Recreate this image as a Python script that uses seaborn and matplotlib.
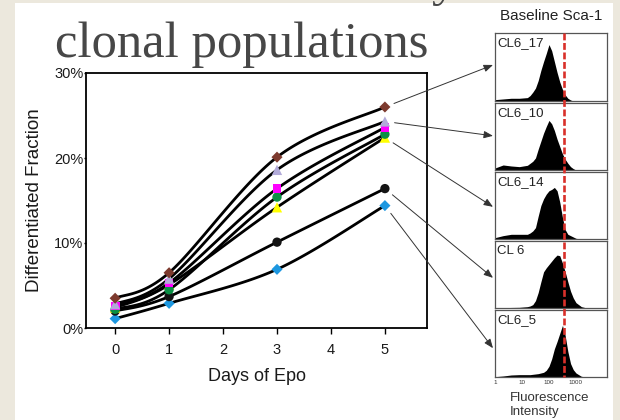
import numpy as np
import pandas as pd
import matplotlib
matplotlib.use("Agg")
import matplotlib.pyplot as plt
from matplotlib.lines import Line2D
from matplotlib.patches import Rectangle
import seaborn as sns

# ---------------------------------------------------------------------------
# Differentiated fraction (%) after days of Epo, one series per clone
# ---------------------------------------------------------------------------
days = [0, 1, 3, 5]
blue_diamond = [1.1, 2.9, 6.9, 14.4]
black_circle = [2.0, 3.7, 10.1, 16.4]
yellow_triangle = [2.4, 5.1, 14.2, 22.4]
green_circle = [2.2, 4.5, 15.4, 22.8]
magenta_square = [2.6, 5.3, 16.4, 23.6]
lavender_triangle = [2.8, 5.8, 18.6, 24.3]
brown_diamond = [3.5, 6.5, 20.1, 26.0]

series_names = ["blue", "black", "yellow", "green", "magenta", "lavender", "brown"]
series_values = [blue_diamond, black_circle, yellow_triangle, green_circle,
                 magenta_square, lavender_triangle, brown_diamond]

x_ticks = [0, 1, 2, 3, 4, 5]
y_ticks = [0, 10, 20, 30]

# ---------------------------------------------------------------------------
# Baseline Sca-1 fluorescence histograms (log10 intensity, relative counts)
# ---------------------------------------------------------------------------
log_intensity = [0.0, 0.3, 0.6, 0.9, 1.2, 1.3, 1.4, 1.5, 1.6, 1.7, 1.8, 1.9, 2.0,
                 2.1, 2.2, 2.3, 2.4, 2.5, 2.6, 2.7, 2.8, 2.9, 3.0, 3.2, 3.4, 4.2]
hist_CL6_17 = [0.02, 0.03, 0.04, 0.04, 0.05, 0.08, 0.13, 0.19, 0.30, 0.45, 0.58, 0.70, 0.83,
               0.74, 0.58, 0.42, 0.28, 0.17, 0.09, 0.04, 0.015, 0, 0, 0, 0, 0]
hist_CL6_10 = [0.03, 0.075, 0.06, 0.05, 0.07, 0.10, 0.13, 0.18, 0.31, 0.43, 0.55, 0.65, 0.74,
               0.69, 0.59, 0.46, 0.35, 0.24, 0.16, 0.10, 0.05, 0.02, 0, 0, 0, 0]
hist_CL6_14 = [0.02, 0.05, 0.07, 0.07, 0.07, 0.09, 0.12, 0.17, 0.34, 0.50, 0.60, 0.67, 0.72,
               0.74, 0.77, 0.72, 0.55, 0.32, 0.14, 0.07, 0.05, 0.03, 0.01, 0, 0, 0]
hist_CL6 = [0.005, 0.005, 0.008, 0.01, 0.02, 0.03, 0.05, 0.11, 0.23, 0.39, 0.54, 0.60, 0.65,
            0.70, 0.75, 0.79, 0.78, 0.67, 0.54, 0.39, 0.25, 0.15, 0.08, 0.02, 0, 0]
hist_CL6_5 = [0.005, 0.015, 0.03, 0.035, 0.035, 0.035, 0.04, 0.045, 0.05, 0.06, 0.07, 0.10, 0.16,
              0.27, 0.42, 0.53, 0.65, 0.77, 0.62, 0.38, 0.20, 0.11, 0.06, 0.01, 0, 0]

hist_labels = ["CL6_17", "CL6_10", "CL6_14", "CL 6", "CL6_5"]
hist_values = [hist_CL6_17, hist_CL6_10, hist_CL6_14, hist_CL6, hist_CL6_5]
hist_source = ["brown", "lavender", "yellow", "black", "blue"]   # curve each histogram belongs to
gate_intensity = 360
hist_ticks = [1, 10, 100, 1000]

# ---------------------------------------------------------------------------
# Styling
# ---------------------------------------------------------------------------
marker_colors = {"blue": "#1c97e0", "black": "#141414", "yellow": "#ffff00",
                 "green": "#0a8f45", "magenta": "#ff00ff", "lavender": "#b2abd9",
                 "brown": "#7d3a2e"}
marker_shapes = {"blue": "D", "black": "o", "yellow": "^", "green": "o",
                 "magenta": "s", "lavender": "^", "brown": "D"}
marker_sizes = {"blue": 32, "black": 45, "yellow": 55, "green": 45,
                "magenta": 40, "lavender": 55, "brown": 32}

sns.set_theme(style="white")
plt.rcParams["font.family"] = ["Liberation Sans", "DejaVu Sans"]

W, H = 620, 420
fig = plt.figure(figsize=(W / 100, H / 100), dpi=100)
fig.patch.set_facecolor("#ece8dd")
fig.patches.append(Rectangle((15 / W, 0), (613 - 15) / W, (H - 3) / H,
                             transform=fig.transFigure, facecolor="white",
                             edgecolor="none", zorder=-10))


def box(left, top, right, bottom):
    return [left / W, 1 - bottom / H, (right - left) / W, (bottom - top) / H]


def smooth_path(x, y, aspect, n=40):
    """Piecewise cubic Bezier through the points (spreadsheet-style smoothing)."""
    P = np.column_stack([np.asarray(x, float) * aspect, np.asarray(y, float)])
    parts = []
    for i in range(len(P) - 1):
        p0, p1, p2 = P[max(i - 1, 0)], P[i], P[i + 1]
        p3 = P[min(i + 2, len(P) - 1)]
        c1 = p1 + (p2 - p0) / 6
        c2 = p2 - (p3 - p1) / 6
        t = np.linspace(0, 1, n)[:, None]
        seg = ((1 - t) ** 3) * p1 + 3 * ((1 - t) ** 2) * t * c1 \
            + 3 * (1 - t) * (t ** 2) * c2 + (t ** 3) * p2
        parts.append(seg if i == 0 else seg[1:])
    pts = np.vstack(parts)
    return pts[:, 0] / aspect, pts[:, 1]


# ---------------------------------------------------------------------------
# Title
# ---------------------------------------------------------------------------
fig.text(55 / W, 1 - 57 / H, "clonal populations", fontsize=36.5,
         family=["Liberation Serif", "DejaVu Serif"], color="#474747",
         ha="left", va="baseline")
fig.text(431 / W, 1 + 5 / H, "y", fontsize=36.5,
         family=["Liberation Serif", "DejaVu Serif"], color="#474747",
         ha="left", va="baseline")

# ---------------------------------------------------------------------------
# Main time-course chart
# ---------------------------------------------------------------------------
ax = fig.add_axes(box(86, 73, 427, 328))
ax.set_facecolor("white")

aspect = 54 / 8.5
for vals in series_values:
    sx, sy = smooth_path(days, vals, aspect)
    ax.plot(sx, sy, color="black", lw=2.0, solid_capstyle="round", zorder=2)

df = pd.DataFrame([(name, d, v) for name, vals in zip(series_names, series_values)
                   for d, v in zip(days, vals)], columns=["clone", "day", "pct"])
sns.scatterplot(data=df, x="day", y="pct", hue="clone", style="clone", size="clone",
                palette=marker_colors, markers=marker_shapes, sizes=marker_sizes,
                linewidth=0, legend=False, ax=ax, zorder=3)

ax.set_xlim(-0.54, 5.78)
ax.set_ylim(0, 30)
ax.set_xticks(x_ticks)
ax.set_xticklabels([str(t) for t in x_ticks])
ax.set_yticks(y_ticks)
ax.set_yticklabels([f"{t}%" for t in y_ticks])
ax.tick_params(axis="x", direction="out", length=4, width=1, color="black",
               labelsize=10.5, labelcolor="#1a1a1a", pad=7, bottom=True)
ax.tick_params(axis="y", direction="out", length=1.5, width=1, color="black",
               labelsize=10.5, labelcolor="#1a1a1a", pad=0.3, left=True)
for sp in ax.spines.values():
    sp.set_color("black")
    sp.set_linewidth(1.3)
ax.set_xlabel("Days of Epo", fontsize=13, color="#1a1a1a", labelpad=8)
ax.set_ylabel("Differentiated Fraction", fontsize=13.5, color="#1a1a1a", labelpad=8)

# ---------------------------------------------------------------------------
# Baseline Sca-1 histograms
# ---------------------------------------------------------------------------
panel_tops = [33, 103, 172, 241, 310]
panel_bottoms = [101, 170, 239, 308, 377]
arrow_fracs = [0.53, 0.51, 0.48, 0.45, 0.43]
intensity = 10 ** np.asarray(log_intensity)

hist_axes = []
for i, (label, vals) in enumerate(zip(hist_labels, hist_values)):
    hax = fig.add_axes(box(495, panel_tops[i], 607, panel_bottoms[i]))
    hax.set_facecolor("white")
    hax.fill_between(intensity, 0, vals, color="black", lw=0)
    hax.set_xscale("log")
    hax.set_xlim(1, 10 ** 4.15)
    hax.set_ylim(0, 1)
    hax.set_yticks([])
    hax.minorticks_off()
    if i == len(hist_labels) - 1:
        hax.set_xticks(hist_ticks)
        hax.set_xticklabels([str(t) for t in hist_ticks])
        hax.tick_params(axis="x", length=0, labelsize=4.5, pad=2, labelcolor="#333333")
    else:
        hax.set_xticks([])
    for sp in hax.spines.values():
        sp.set_color("#555555")
        sp.set_linewidth(0.9)
    hax.text(0.02, 1 - 4 / 68, label, transform=hax.transAxes, ha="left", va="top",
             fontsize=9.5, color="#222222")
    hist_axes.append(hax)

# dashed gate line through all panels
gx = hist_axes[0].transData.transform((gate_intensity, 0.5))[0]
gx = fig.transFigure.inverted().transform((gx, 0))[0]
fig.add_artist(Line2D([gx, gx], [1 - panel_tops[0] / H, 1 - panel_bottoms[-1] / H],
                      transform=fig.transFigure, color="#d9302a", lw=1.9,
                      dashes=(2.6, 1.0), zorder=5))

fig.text(551 / W, 1 - 16 / H, "Baseline Sca-1", fontsize=11, color="#222222",
         ha="center", va="center")
fig.text(510 / W, 1 - 405 / H, "Fluorescence\nIntensity", fontsize=9.5,
         color="#333333", ha="left", va="center", linespacing=1.15)

# arrows from each clone's day-5 point to its histogram
lookup = dict(zip(series_names, series_values))
for i, src in enumerate(hist_source):
    ax.annotate("", xy=(-0.018, arrow_fracs[i]), xycoords=hist_axes[i].transAxes,
                xytext=(days[-1], lookup[src][-1]), textcoords="data",
                annotation_clip=False,
                arrowprops=dict(arrowstyle="-|>,head_length=0.5,head_width=0.2",
                                mutation_scale=11, color="#333333", lw=0.7,
                                shrinkA=7, shrinkB=0))

fig.savefig("out.png", dpi=100, facecolor=fig.get_facecolor())
